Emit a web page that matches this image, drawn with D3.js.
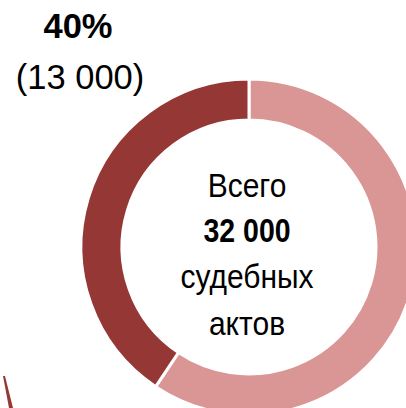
<!DOCTYPE html>
<html>
<head>
<meta charset="utf-8">
<script src="https://cdn.jsdelivr.net/npm/d3@7"></script>
<style>
  html, body { margin: 0; padding: 0; background: #fff; }
  svg { display: block; }
  text { font-family: "Liberation Sans", Arial, sans-serif; fill: #000; }
</style>
</head>
<body>
<svg id="chart" width="406" height="408"></svg>
<script>
const categories = ["Прочие судебные акты", "Выделенные судебные акты"];
const values = [19000, 13000];
const colors = ["#D99694", "#953735"];
const sliceLabelPct = ["40%"];
const sliceLabelCount = ["(13 000)"];
const centerLines = ["Всего", "32 000", "судебных", "актов"];

const svg = d3.select("#chart");
const cx = 249, cy = 247, rOuter = 168, rInner = 127;

const pie = d3.pie().sort(null).value(d => d);
const arc = d3.arc().innerRadius(rInner).outerRadius(rOuter);

const g = svg.append("g").attr("transform", `translate(${cx},${cy})`);
g.selectAll("path.slice")
  .data(pie(values))
  .join("path")
  .attr("class", "slice")
  .attr("d", arc)
  .attr("fill", (d, i) => colors[i])
  .attr("stroke", "#fff")
  .attr("stroke-width", 3);

// center text (slightly tall glyphs as in the reference)
const lineY = [197, 242, 288, 335];
svg.append("g").selectAll("text")
  .data(centerLines)
  .join("text")
  .attr("transform", (d, i) => `translate(247,${lineY[i]}) scale(1,${i === 1 ? 1.15 : 1.12})`)
  .attr("text-anchor", "middle")
  .style("font-size", (d, i) => i === 1 ? "28.5px" : "30px")
  .style("font-weight", (d, i) => i === 1 ? "bold" : "normal")
  .text(d => d);

// outer label of highlighted slice
svg.append("text")
  .attr("x", 78).attr("y", 38)
  .attr("text-anchor", "middle")
  .style("font-size", "34.5px")
  .style("font-weight", "bold")
  .text(sliceLabelPct[0]);
svg.append("text")
  .attr("x", 80).attr("y", 89)
  .attr("text-anchor", "middle")
  .style("font-size", "34.5px")
  .text(sliceLabelCount[0]);

// fragment of neighbouring graphic at bottom-left
svg.append("path")
  .attr("d", "M3,376 L5,376 L13,408 L9,408 Z")
  .attr("fill", "#953735");
</script>
</body>
</html>
